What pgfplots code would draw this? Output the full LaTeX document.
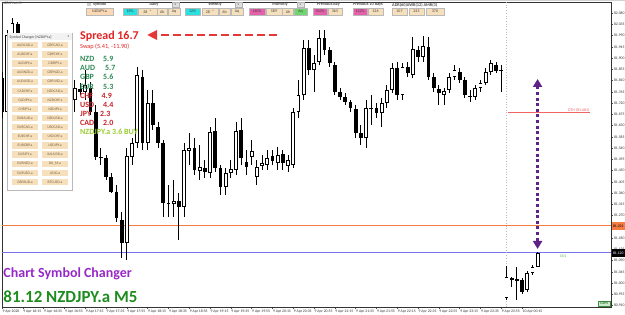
\documentclass[border=0pt]{standalone}
\usepackage{fontspec}
\setmainfont{Carlito}
\usepackage{pgfplots}
\pgfplotsset{compat=1.18}
\usepackage{pgfplotstable}
\usetikzlibrary{arrows.meta}
\newcommand{\fs}[1]{\fontsize{#1}{#1}\selectfont}
\definecolor{askline}{RGB}{245,125,65}
\definecolor{bidline}{RGB}{115,115,235}
\definecolor{dthred}{RGB}{240,100,100}
\definecolor{arrowred}{RGB}{230,55,55}
\definecolor{spreadred}{RGB}{225,35,35}
\definecolor{cgreen}{RGB}{46,139,87}
\definecolor{cred}{RGB}{200,35,40}
\definecolor{buygreen}{RGB}{154,205,50}
\definecolor{purp}{RGB}{150,40,200}
\definecolor{arrowpurple}{RGB}{95,35,135}
\definecolor{titlegreen}{RGB}{30,140,30}
\definecolor{btn}{RGB}{246,224,188}
\definecolor{peach}{RGB}{252,215,180}
\definecolor{tcyan}{RGB}{40,225,225}
\definecolor{tpink}{RGB}{230,95,170}
\definecolor{tgreen}{RGB}{110,215,110}
\definecolor{btntext}{RGB}{120,95,70}

% up (white) candles: index, open, high, low, close
\pgfplotstableread{
x o h l c
1 81.684 82.012 81.672 81.992
2 81.992 82.060 81.980 82.040
5 81.892 81.944 81.872 81.932
8 81.792 81.844 81.772 81.832
11 81.712 81.780 81.696 81.772
12 81.772 81.804 81.764 81.792
14 81.732 81.812 81.684 81.780
16 81.764 81.852 81.732 81.792
24 81.160 81.540 81.092 81.508
25 81.504 81.580 81.472 81.560
26 81.560 81.864 81.540 81.832
28 81.560 81.772 81.532 81.720
33 81.316 81.412 81.264 81.328
35 81.304 81.560 81.264 81.532
36 81.528 81.600 81.472 81.540
38 81.448 81.552 81.412 81.464
40 81.440 81.624 81.420 81.604
43 81.384 81.460 81.352 81.440
44 81.440 81.492 81.420 81.456
45 81.452 81.644 81.432 81.608
48 81.504 81.572 81.472 81.528
49 81.424 81.492 81.392 81.464
50 81.468 81.512 81.452 81.480
51 81.472 81.532 81.452 81.500
53 81.480 81.544 81.452 81.512
55 81.468 81.512 81.444 81.492
56 81.472 81.700 81.460 81.684
57 81.684 81.812 81.660 81.752
58 81.752 81.972 81.732 81.940
60 81.852 81.912 81.764 81.880
61 81.884 82.012 81.872 81.980
70 81.580 81.732 81.540 81.700
73 81.680 81.740 81.624 81.720
74 81.720 81.792 81.700 81.772
75 81.772 81.880 81.760 81.860
77 81.752 81.880 81.732 81.864
79 81.832 81.984 81.820 81.936
81 81.904 81.988 81.884 81.948
85 81.752 81.780 81.712 81.768
86 81.772 81.840 81.760 81.824
87 81.824 81.872 81.812 81.852
91 81.744 81.792 81.732 81.780
92 81.780 81.812 81.764 81.800
93 81.800 81.860 81.792 81.844
94 81.844 81.892 81.832 81.880
97 80.940 81.068 80.932 81.024
101 80.972 81.048 80.964 81.040
102 81.040 81.072 81.032 81.064
103 81.064 81.124 81.064 81.120
}\bull

% down (black) candles: index, open, high, low, close
\pgfplotstableread{
x o h l c
0 81.820 81.844 81.660 81.684
3 82.036 82.044 81.940 81.952
4 81.952 81.972 81.880 81.892
6 81.932 81.940 81.844 81.852
7 81.852 81.864 81.780 81.792
9 81.832 81.840 81.744 81.752
10 81.752 81.764 81.700 81.712
13 81.792 81.800 81.720 81.732
15 81.776 81.800 81.752 81.764
17 81.780 81.804 81.672 81.684
18 81.684 81.712 81.492 81.504
19 81.504 81.540 81.472 81.500
20 81.500 81.512 81.412 81.424
21 81.424 81.440 81.360 81.364
22 81.364 81.392 81.244 81.260
23 81.252 81.284 81.100 81.160
27 81.824 81.852 81.532 81.560
29 81.720 81.772 81.612 81.632
30 81.624 81.644 81.540 81.560
31 81.560 81.572 81.264 81.320
32 81.320 81.392 81.264 81.316
34 81.328 81.360 81.172 81.304
37 81.540 81.580 81.432 81.452
39 81.460 81.492 81.420 81.444
41 81.608 81.660 81.444 81.460
42 81.460 81.472 81.352 81.384
46 81.612 81.660 81.472 81.500
47 81.484 81.532 81.432 81.464
52 81.508 81.532 81.472 81.488
54 81.516 81.532 81.452 81.480
59 81.940 81.972 81.832 81.852
62 81.980 82.012 81.912 81.932
63 81.932 81.944 81.864 81.880
64 81.872 81.884 81.752 81.764
65 81.764 81.780 81.732 81.744
66 81.744 81.760 81.712 81.724
67 81.724 81.732 81.684 81.700
68 81.696 81.712 81.580 81.600
69 81.600 81.632 81.552 81.580
71 81.700 81.752 81.632 81.696
72 81.700 81.720 81.660 81.680
76 81.860 81.884 81.732 81.752
78 81.864 81.884 81.824 81.840
80 81.932 81.948 81.884 81.904
82 81.944 81.984 81.812 81.824
83 81.824 81.840 81.764 81.780
84 81.776 81.792 81.712 81.760
88 81.844 81.860 81.800 81.812
89 81.812 81.824 81.740 81.752
90 81.748 81.772 81.724 81.744
95 81.872 81.884 81.840 81.848
96 81.852 81.872 81.764 81.848
98 81.020 81.024 80.984 81.012
99 81.016 81.064 80.932 81.008
100 81.012 81.020 80.956 80.964
}\bear

\pgfplotsset{candle/.style={draw=none, mark=none, forget plot,
  error bars/.cd, y dir=plus, y explicit, error mark=none,
  error bar style={#1}}}

\newcommand{\tb}[6]{\draw[draw=gray!55, fill=#5, line width=0.3bp] (#1,#2) rectangle (#3,#4);
  \node[inner sep=0, font=\fs{4}, text=black!75] at ({(#1+#3)/2},{(#2+#4)/2}) {#6};}

\begin{document}
\begin{tikzpicture}
\useasboundingbox (0,0) rectangle (625bp,315bp);
\fill[white] (0,0) rectangle (625bp,315bp);
\begin{axis}[
  at={(2bp,8bp)}, anchor=south west, scale only axis,
  width=609bp, height=305bp,
  xmin=0, xmax=117.1, ymin=80.904, ymax=82.124,
  axis line style={line width=0.5bp, black!80},
  tick align=outside, major tick length=1.8bp,
  tick style={black!70, line width=0.4bp},
  xtick pos=left, ytick pos=right, yticklabel pos=right,
  xtick={0,4,...,100},
  xticklabels={9 Apr 2020,9 Apr 16:15,9 Apr 16:35,9 Apr 16:55,9 Apr 17:15,9 Apr 17:35,9 Apr 17:55,9 Apr 18:15,9 Apr 18:35,9 Apr 18:55,9 Apr 19:15,9 Apr 19:35,9 Apr 19:55,9 Apr 20:15,9 Apr 20:35,9 Apr 20:55,9 Apr 21:15,9 Apr 21:35,9 Apr 21:55,9 Apr 22:15,9 Apr 22:35,9 Apr 22:55,9 Apr 23:15,9 Apr 23:35,9 Apr 23:55,10 Apr 00:15},
  xticklabel style={anchor=north west, inner sep=0pt, xshift=0.4bp, yshift=-1.2bp, font=\fs{3.8}, text=black!80},
  ytick={80.910,80.955,81.000,81.045,81.090,81.135,81.180,81.225,81.270,81.315,81.360,81.405,81.450,81.495,81.540,81.585,81.630,81.675,81.720,81.765,81.810,81.855,81.900,81.945,81.990,82.035,82.080},
  scaled y ticks=false,
  yticklabel style={anchor=west, inner sep=0pt, xshift=1bp, font=\fs{3.8}, text=black!80,
    /pgf/number format/.cd, fixed, fixed zerofill, precision=3, assume math mode=true},
]
% horizontal price lines and day separator
\draw[askline, line width=1bp] (axis cs:0,81.231) -- (axis cs:117.1,81.231);
\draw[bidline, line width=1bp] (axis cs:0,81.120) -- (axis cs:117.1,81.120);
\draw[gray!55, dotted, line width=0.7bp] (axis cs:97,80.904) -- (axis cs:97,82.124);
\draw[dthred, line width=0.8bp] (axis cs:97.3,81.681) -- (axis cs:113.1,81.681);
\node[anchor=south east, inner sep=0.6bp, font=\fs{4}, text=dthred] at (axis cs:113.1,81.681) {DTH (81.681)};
% candles: wicks, then bodies
\addplot[candle={draw=black, line width=0.9bp}] table[x=x, y=l, y error plus expr=\thisrow{h}-\thisrow{l}] {\bull};
\addplot[candle={draw=black, line width=0.9bp}] table[x=x, y=l, y error plus expr=\thisrow{h}-\thisrow{l}] {\bear};
\addplot[candle={draw=black, line width=3.8bp}] table[x=x, y=c, y error plus expr=\thisrow{o}-\thisrow{c}] {\bear};
\addplot[candle={draw=black, line width=3.8bp}] table[x=x, y=o, y error plus expr=\thisrow{c}-\thisrow{o}] {\bull};
\addplot[candle={draw=white, line width=2.1bp}] table[x=x, y expr=\thisrow{o}+0.0035, y error plus expr=\thisrow{c}-\thisrow{o}-0.007] {\bull};
\end{axis}

\begin{scope}[x=1bp, y=-1bp, yshift=315bp]
% top strip
\fill[gray!35] (0,0) rectangle (625,1.5);
\node[anchor=west, inner sep=0, font=\fs{3.6}, text=black!70] at (2.5,4) {NZDJPY.a,M5};
% toolbar headers
\begin{scope}[every node/.style={inner sep=0, font=\fs{4.3}\bfseries, text=black!70}]
\fill[gray!40] (87,3) rectangle (91,6.5);
\node[anchor=west] at (93,4.8) {Symbol};
\node at (154,4.8) {Daily};
\node at (215,4.8) {Weekly};
\node at (280,4.8) {Monthly};
\node at (328.5,4.8) {Previous day};
\node at (368,4.8) {Previous 10 days};
\node[anchor=west] at (392,4.8) {ADR(60)AWR(12) AMR(3)};
\end{scope}
\foreach \xa in {172,235,297}{
  \draw[fill=gray!25, draw=gray!60, line width=0.3bp] (\xa,2) rectangle (\xa+7,7.5);
  \node[inner sep=0, font=\fs{3.5}, text=black!70] at (\xa+3.5,4.8) {x};}
\tb{86}{8.3}{113}{15}{peach}{NZDJPY.a}
\tb{123}{8.3}{137}{15}{tcyan}{18\%}
\tb{138}{8.3}{157}{15}{btn}{28 \ \ \textsuperscript{v}}
\tb{157.5}{8.3}{167}{15}{btn}{Ah}
\tb{168}{8.3}{180}{15}{btn}{Aq}
\tb{185}{8.3}{200}{15}{tcyan}{12\%}
\tb{202}{8.3}{218}{15}{btn}{28 \ \ \textsuperscript{v}}
\tb{219}{8.3}{230}{15}{btn}{Ah}
\tb{231}{8.3}{243}{15}{btn}{Aq}
\tb{249}{8.3}{265}{15}{tpink}{160\%}
\tb{266}{8.3}{282}{15}{btn}{589}
\tb{282.5}{8.3}{293.5}{15}{btn}{Ah}
\tb{294}{8.3}{307}{15}{tgreen}{Aq}
\tb{313}{8.3}{327}{15}{tpink}{343\%}
\tb{328}{8.3}{342}{15}{btn}{365}
\tb{353}{8.3}{367}{15}{tpink}{122\%}
\tb{368}{8.3}{383}{15}{btn}{126}
\tb{392}{8.3}{407}{15}{btn}{107}
\tb{409}{8.3}{424}{15}{btn}{245}
\tb{426}{8.3}{444}{15}{btn}{370}

% symbol changer panel
\draw[draw=gray!55, fill=white, line width=0.4bp] (7.5,33) rectangle (72,190);
\fill[gray!10] (8,33.4) rectangle (71.6,40.5);
\node[anchor=west, inner sep=0, font=\fs{3.8}, text=black!75] at (9.5,37) {Symbol Changer [NZDJPY.a]};
\node[inner sep=0, font=\fs{4}, text=black!60] at (68.5,37) {x};
\foreach \a/\b [count=\i from 0] in {AUDCAD.a/GBPCAD.a,AUDCHF.a/GBPCHF.a,AUDJPY.a/GBPJPY.a,AUDNZD.a/GBPNZD.a,AUDUSD.a/GBPUSD.a,CADCHF.a/NZDCAD.a,CADJPY.a/NZDCHF.a,CHFJPY.a/NZDJPY.a,EURAUD.a/NZDUSD.a,EURCAD.a/USDCAD.a,EURCHF.a/USDCHF.a,EURGBP.a/USDJPY.a,EURJPY.a/XAUUSD.a,EURNZD.a/DJI\_M.a,EURUSD.a/US30.a,GBPAUD.a/BTCUSD.a}{
  \pgfmathsetmacro{\yc}{45.3+9.11*\i}
  \fill[btn] (11.7,\yc-3.2) rectangle (38.3,\yc+3.2);
  \fill[btn] (41.7,\yc-3.2) rectangle (68.3,\yc+3.2);
  \node[inner sep=0, font=\fs{3.7}, text=btntext] at (25,\yc) {\a};
  \node[inner sep=0, font=\fs{3.7}, text=btntext] at (55,\yc) {\b};
}

% spread info
\draw[arrowred, line width=2.8bp, dash pattern=on 8bp off 4bp, -{Triangle[width=9bp,length=10bp]}] (277,35) -- (147,35);
\node[anchor=base west, inner sep=0, text=spreadred, font=\fs{12}\bfseries] at (80,39.5) {Spread 16.7};
\node[anchor=base west, inner sep=0, text=spreadred, font=\fs{6.3}] at (80,48.2) {Swap (5.41, -11.90)};
\begin{scope}[every node/.style={anchor=base west, inner sep=0, font=\fs{8}\bfseries}]
\node[text=cgreen] at (80,61.6) {NZD}; \node[text=cgreen] at (103,61.6) {5.9};
\node[text=cgreen] at (80,70.8) {AUD}; \node[text=cgreen] at (105,70.8) {5.7};
\node[text=cgreen] at (80,79.9) {GBP}; \node[text=cgreen] at (103,79.9) {5.6};
\node[text=cgreen] at (80,89.1) {EUR}; \node[text=cgreen] at (103,89.1) {5.3};
\node[text=cred] at (80,98.2) {CHF}; \node[text=cred] at (101.5,98.2) {4.9};
\node[text=cred] at (80,107.4) {USD}; \node[text=cred] at (103,107.4) {4.4};
\node[text=cred] at (80,116.5) {JPY}; \node[text=cred] at (100,116.5) {2.3};
\node[text=cred] at (80,125.7) {CAD}; \node[text=cred] at (103,125.7) {2.0};
\node[text=buygreen] at (80,134.8) {NZDJPY.a 3.6 BUY};
\end{scope}

% purple range arrow
\draw[arrowpurple, line width=3bp, dash pattern=on 3bp off 2.6bp,
  {Triangle[width=9bp,length=8bp]}-{Triangle[width=9bp,length=8bp]}] (537.6,79) -- (537.6,249);

% right axis price boxes
\fill[askline] (611.5,222) rectangle (625,230.5);
\node[inner sep=0, font=\fs{3.8}, text=black] at (618.3,226.3) {81.231};
\fill[black] (611.5,249) rectangle (625,257.5);
\node[inner sep=0, font=\fs{3.8}, text=white] at (618.3,253.3) {81.120};

% misc
\node[inner sep=0, font=\fs{4}, text={rgb,255:red,60;green,175;blue,60}] at (563,256.5) {151};
\draw[fill={rgb,255:red,205;green,235;blue,205}, draw={rgb,255:red,60;green,140;blue,60}, line width=0.3bp] (598,300.8) rectangle (610,306.5);
\node[inner sep=0, font=\fs{4}\bfseries, text={rgb,255:red,40;green,110;blue,40}] at (604,303.7) {CSM};

% bottom-left titles
\node[anchor=base west, inner sep=0, text=purp, font=\fs{14}\bfseries] at (3.3,277.7) {Chart Symbol Changer};
\node[anchor=base west, inner sep=0, text=titlegreen, font=\fs{17}\bfseries] at (3.3,302.5) {81.12 NZDJPY.a M5};
\end{scope}
\end{tikzpicture}
\end{document}
